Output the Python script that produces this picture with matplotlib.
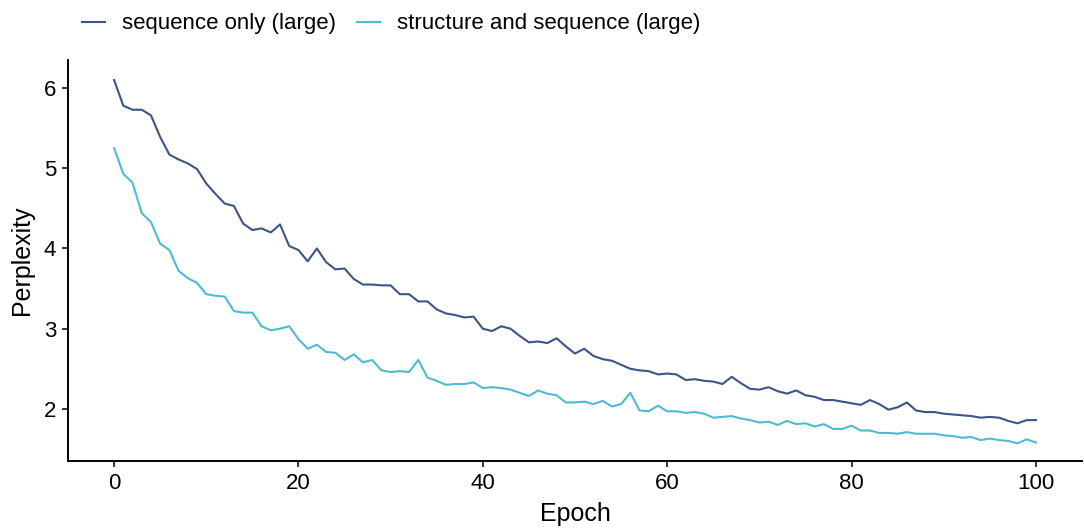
import numpy as np
import matplotlib
matplotlib.use("Agg")
import matplotlib.pyplot as plt

plt.rcParams["font.family"] = ["Liberation Sans", "DejaVu Sans"]

epochs = np.arange(101)

seq_only = [
    6.10, 5.78, 5.73, 5.73, 5.66, 5.39, 5.17, 5.11, 5.06, 4.99,
    4.81, 4.68, 4.56, 4.53, 4.31, 4.23, 4.25, 4.20, 4.30, 4.03,
    3.98, 3.84, 4.00, 3.83, 3.74, 3.75, 3.62, 3.55, 3.55, 3.54,
    3.54, 3.43, 3.43, 3.34, 3.34, 3.24, 3.19, 3.17, 3.14, 3.15,
    3.00, 2.97, 3.03, 3.00, 2.91, 2.83, 2.84, 2.82, 2.88, 2.78,
    2.69, 2.75, 2.66, 2.62, 2.60, 2.55, 2.50, 2.48, 2.47, 2.43,
    2.44, 2.43, 2.36, 2.37, 2.35, 2.34, 2.31, 2.40, 2.32, 2.25,
    2.24, 2.27, 2.22, 2.19, 2.23, 2.17, 2.15, 2.11, 2.11, 2.09,
    2.07, 2.05, 2.11, 2.06, 1.99, 2.02, 2.08, 1.98, 1.96, 1.96,
    1.94, 1.93, 1.92, 1.91, 1.89, 1.90, 1.89, 1.85, 1.82, 1.86,
    1.86,
]

struct_seq = [
    5.25, 4.93, 4.82, 4.44, 4.33, 4.06, 3.98, 3.72, 3.63, 3.57,
    3.43, 3.41, 3.40, 3.22, 3.20, 3.20, 3.03, 2.98, 3.00, 3.03,
    2.87, 2.75, 2.80, 2.71, 2.70, 2.61, 2.68, 2.58, 2.61, 2.48,
    2.46, 2.47, 2.46, 2.61, 2.39, 2.35, 2.30, 2.31, 2.31, 2.33,
    2.26, 2.27, 2.26, 2.24, 2.20, 2.16, 2.23, 2.19, 2.17, 2.08,
    2.08, 2.09, 2.06, 2.10, 2.03, 2.06, 2.20, 1.98, 1.97, 2.04,
    1.97, 1.97, 1.95, 1.96, 1.94, 1.89, 1.90, 1.91, 1.88, 1.86,
    1.83, 1.84, 1.80, 1.85, 1.81, 1.82, 1.78, 1.81, 1.75, 1.75,
    1.79, 1.73, 1.73, 1.70, 1.70, 1.69, 1.71, 1.69, 1.69, 1.69,
    1.67, 1.66, 1.64, 1.65, 1.61, 1.63, 1.61, 1.60, 1.57, 1.62,
    1.58,
]

labels = ["sequence only (large)", "structure and sequence (large)"]
colors = ["#3C5488", "#4DBBD5"]

fig = plt.figure(figsize=(10.84, 5.29), dpi=100)
ax = fig.add_axes([68 / 1084, 1 - 461 / 529, (1082 - 68) / 1084, (461 - 60) / 529])

for series, lab, col in zip([seq_only, struct_seq], labels, colors):
    ax.plot(epochs, series, color=col, lw=1.5, label=lab)

ax.set_xlim(-5, 105)
ax.set_ylim(1.35, 6.35)
ax.set_xticks([0, 20, 40, 60, 80, 100])
ax.set_yticks([2, 3, 4, 5, 6])
ax.set_xlabel("Epoch", fontsize=18, labelpad=6)
ax.set_ylabel("Perplexity", fontsize=18, labelpad=7)
ax.tick_params(labelsize=16, length=4.5, width=1.1, color="black", pad=4)
for s in ["top", "right"]:
    ax.spines[s].set_visible(False)
for s in ["left", "bottom"]:
    ax.spines[s].set_linewidth(1.4)

fig.legend(loc="upper left", bbox_to_anchor=(69 / 1084, 1.0), ncol=2, frameon=False,
           fontsize=16, handlelength=1.0, handletextpad=0.8, columnspacing=0.95,
           borderaxespad=0.2)

fig.savefig("out.png", dpi=100)
